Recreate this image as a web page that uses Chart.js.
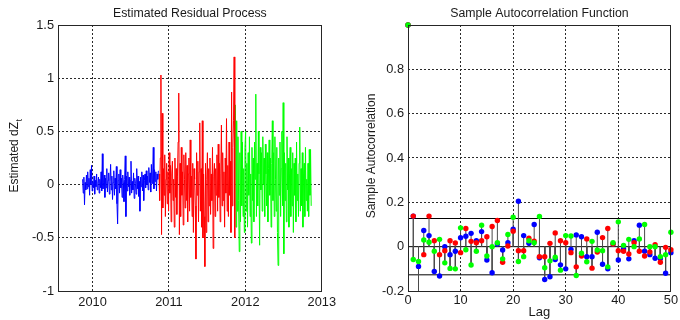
<!DOCTYPE html>
<html><head><meta charset="utf-8">
<script src="https://cdn.jsdelivr.net/npm/chart.js@4.4.1/dist/chart.umd.min.js"></script>
<style>
html,body{margin:0;padding:0;background:#fff;width:680px;height:320px;overflow:hidden}
canvas{position:absolute;top:0}
#c1{left:0}#c2{left:340px}
</style></head><body>
<canvas id="c1" width="340" height="320"></canvas>
<canvas id="c2" width="340" height="320"></canvas>
<script>
// ---------- data ----------
const segmentStarts = [2009.87, 2010.87, 2011.87];   // decimal year where each colored segment starts
const blueResiduals = [0.05,-0.08,0.07,-0.19,0.02,-0.05,0.09,-0.04,0.12,-0.02,0.06,-0.10,0.14,0.00,0.18,-0.06,0.03,-0.03,0.08,-0.09,0.04,-0.02,0.10,-0.05,0.01,0.07,-0.08,0.05,-0.03,0.12,-0.06,0.29,-0.04,0.02,0.09,-0.12,0.06,-0.03,0.15,-0.07,0.04,0.11,-0.09,0.03,0.19,-0.05,0.08,-0.14,0.02,0.13,-0.10,0.06,-0.04,0.17,-0.18,-0.37,0.04,0.10,-0.08,0.14,-0.03,0.06,-0.12,0.09,0.02,-0.16,0.05,0.27,-0.30,0.08,-0.06,0.12,-0.02,0.07,-0.10,0.04,0.22,-0.08,0.03,-0.05,0.11,-0.13,0.06,0.01,-0.09,0.15,-0.04,0.08,-0.11,0.03,-0.25,0.07,-0.02,0.12,-0.06,0.09,-0.15,0.04,0.10,-0.03,0.13,0.00,0.08,-0.05,0.16,0.02,0.11,-0.07,0.19,0.01,0.09,0.35,-0.04,0.14,0.03,0.12,-0.06,0.10,0.05,0.13];
const redResiduals = [0.10,-0.15,0.25,1.03,-0.47,0.67,-0.22,0.15,-0.10,0.28,-0.30,0.05,0.20,-0.18,0.12,-0.25,0.30,-0.08,0.18,-0.35,0.10,0.22,-0.15,0.05,-0.40,0.25,-0.12,0.15,-0.28,0.08,0.40,0.86,-0.47,0.20,-0.30,0.35,-0.10,0.12,-0.38,0.28,0.05,-0.22,0.30,-0.15,0.18,-0.35,0.10,0.25,-0.25,0.42,-0.12,0.08,-0.30,0.20,-0.45,0.15,0.05,-0.20,-0.70,0.30,-0.10,0.22,-0.35,0.12,0.58,-0.25,0.15,-0.40,0.60,-0.50,0.10,-0.30,-0.77,0.20,-0.45,0.05,0.30,-0.35,0.15,-0.20,0.25,-0.28,0.10,-0.15,0.35,-0.60,0.08,0.20,-0.30,0.15,-0.10,0.28,-0.25,0.38,-0.12,0.20,-0.35,0.10,0.56,-0.20,0.30,-0.15,0.12,-0.40,0.25,-0.08,0.62,-0.25,0.18,-0.30,0.40,-0.10,0.22,-0.45,0.87,-0.20,0.35,0.60,1.20,-0.50];
const greenResiduals = [0.75,-0.40,0.60,-0.25,0.45,-0.15,-0.63,0.30,-0.35,0.50,-0.20,0.40,-0.30,0.15,-0.45,0.35,0.50,-0.25,0.20,-0.40,0.30,-0.10,0.45,-0.30,0.10,-0.55,0.35,-0.15,0.25,-0.35,0.40,0.05,0.85,-0.30,0.20,-0.20,0.50,0.10,-0.57,0.35,-0.05,0.30,-0.25,0.45,0.00,0.25,-0.30,0.38,0.10,-0.20,0.30,-0.35,0.15,0.42,-0.10,0.25,-0.40,0.20,0.60,-0.15,0.30,-0.30,0.45,0.05,-0.25,0.35,-0.45,-0.76,0.25,-0.10,0.40,-0.30,0.15,0.50,-0.20,0.77,-0.65,0.30,-0.15,0.20,-0.35,0.45,-0.05,0.25,-0.40,0.10,0.35,-0.30,0.15,-0.20,0.30,-0.45,0.20,-0.10,0.25,-0.35,0.40,-0.15,0.10,-0.30,0.20,0.54,-0.25,0.15,-0.20,0.30,-0.40,0.10,0.20,-0.30,0.35,-0.15,0.05,-0.25,0.20,-0.30,0.33,-0.10,0.33,-0.20];

const lags = [0,1,2,3,4,5,6,7,8,9,10,11,12,13,14,15,16,17,18,19,20,21,22,23,24,25,26,27,28,29,30,31,32,33,34,35,36,37,38,39,40,41,42,43,44,45,46,47,48,49,50];
const acfBlue = [1,0.138,-0.089,0.073,0.05,-0.112,-0.132,0.0,-0.036,-0.021,0.04,0.047,0.06,0.027,0.068,-0.06,-0.118,0.012,-0.015,0.018,0.079,0.205,0.05,0.015,0.1,-0.05,-0.148,-0.136,-0.058,-0.082,-0.1,-0.012,0.053,0.045,-0.045,-0.045,0.065,-0.079,-0.1,0.012,-0.06,-0.01,-0.055,0.027,0.097,-0.021,-0.036,-0.052,-0.053,-0.12,-0.027];
const acfRed = [1,0.138,-0.25,-0.036,0.138,0.027,-0.036,-0.018,0.027,0.017,-0.027,0.082,0.024,0.018,0.027,0.045,0.091,0.118,-0.07,0.003,0.07,-0.018,-0.018,0.038,0.025,-0.045,-0.045,0.015,0.062,0.027,0.018,-0.027,-0.091,-0.042,0.035,-0.097,-0.024,0.041,0.082,0.012,-0.018,-0.021,-0.033,0.018,-0.021,-0.042,-0.024,0.009,-0.07,-0.003,-0.014];
const acfGreen = [1,-0.058,-0.067,0.03,0.02,-0.021,0.033,-0.073,-0.098,-0.1,0.085,-0.014,-0.083,-0.021,0.097,-0.042,0.0,0.018,-0.055,0.055,0.133,-0.067,-0.045,0.027,0.018,0.136,-0.095,-0.064,-0.048,-0.106,0.05,0.048,-0.13,-0.03,-0.068,0.024,-0.015,-0.018,-0.091,0.018,0.112,0.006,0.033,0.0,0.035,0.1,0.0,0.0,-0.045,-0.036,0.065];
const confBound = 0.127;

const yearTicks = [2010, 2011, 2012, 2013];
const residualTicks = [-1, -0.5, 0, 0.5, 1, 1.5];
const lagTicks = [0, 10, 20, 30, 40, 50];
const acfTicks = [-0.2, 0, 0.2, 0.4, 0.6, 0.8];

// ---------- helpers ----------
const FONT = '"Liberation Sans", Arial, Helvetica, sans-serif';
Chart.defaults.font.family = FONT;
Chart.defaults.font.size = 12.8;
Chart.defaults.color = '#1a1a1a';
Chart.defaults.animation = false;

function segment(vals, start) {
  return vals.map((v, i) => ({x: start + i / vals.length, y: v}));
}
function stems(vals) {
  const out = [];
  lags.forEach((k, i) => { out.push({x:k, y:0}); out.push({x:k, y:vals[i]}); out.push({x:k, y:null}); });
  return out;
}
function gridColor(minV, maxV, skip) {
  return (c) => {
    const v = c.tick && c.tick.value;
    if (v === undefined) return 'rgba(0,0,0,0)';
    if (Math.abs(v - minV) < 1e-6 || Math.abs(v - maxV) < 1e-6) return 'rgba(0,0,0,0)';
    if (skip && skip.some(s => Math.abs(v - s) < 1e-6)) return 'rgba(0,0,0,0)';
    return '#2a2a2a';
  };
}
function decor(title, ylab, ysub, xlab, ylabX) {
  return {
    id: 'decor',
    afterDraw(chart) {
      const {ctx, chartArea: a} = chart;
      ctx.save();
      ctx.strokeStyle = '#262626';
      ctx.lineWidth = 1;
      ctx.strokeRect(Math.round(a.left) + 0.5, Math.round(a.top) + 0.5,
                     Math.round(a.right - a.left) - 1, Math.round(a.bottom - a.top));
      ctx.fillStyle = '#1a1a1a';
      ctx.textAlign = 'center';
      ctx.textBaseline = 'middle';
      ctx.font = '12.3px ' + FONT;
      ctx.fillText(title, (a.left + a.right) / 2, 14);
      if (xlab) { ctx.font = '13px ' + FONT; ctx.fillText(xlab, (a.left + a.right) / 2, 312); }
      // y label rotated
      ctx.translate(ylabX, (a.top + a.bottom) / 2 - 2);
      ctx.rotate(-Math.PI / 2);
      ctx.font = '12px ' + FONT;
      const w1 = ctx.measureText(ylab).width;
      let w2 = 0;
      if (ysub) { ctx.font = '9px ' + FONT; w2 = ctx.measureText(ysub).width; }
      const x0 = -(w1 + w2) / 2;
      ctx.textAlign = 'left';
      ctx.font = '12px ' + FONT;
      ctx.fillText(ylab, x0, 0);
      if (ysub) { ctx.font = '9px ' + FONT; ctx.fillText(ysub, x0 + w1 + 0.5, 5); }
      ctx.restore();
    }
  };
}

// ---------- left chart ----------
const lineDs = (vals, start, color) => ({
  type: 'line', data: segment(vals, start), borderColor: color, borderWidth: 1,
  pointRadius: 0, tension: 0, fill: false
});
new Chart(document.getElementById('c1'), {
  type: 'line',
  data: { datasets: [
    lineDs(blueResiduals, segmentStarts[0], '#0000ff'),
    lineDs(redResiduals, segmentStarts[1], '#ff0000'),
    lineDs(greenResiduals, segmentStarts[2], '#00ff00')
  ]},
  options: {
    responsive: false,
    layout: { padding: {top: 25, right: 17, left: 0, bottom: 0} },
    plugins: { legend: {display: false}, tooltip: {enabled: false}, title: {display: false} },
    scales: {
      x: {
        type: 'linear', min: 2009.548, max: 2013,
        afterFit: s => { s.height = 29; },
        afterBuildTicks: s => { s.ticks = [2009.548].concat(yearTicks).map(v => ({value: v})); },
        ticks: { padding: 4, maxRotation: 0, autoSkip: false, callback: v => yearTicks.includes(v) ? String(v) : '' },
        grid: { drawTicks: false, color: gridColor(2009.548, 2013), lineWidth: 1 },
        border: { display: false, dash: [2, 2] }
      },
      y: {
        type: 'linear', min: -1, max: 1.5,
        afterFit: s => { s.width = 58; },
        afterBuildTicks: s => { s.ticks = residualTicks.map(v => ({value: v})); },
        ticks: { padding: 4, callback: v => String(v) },
        grid: { drawTicks: false, color: gridColor(-1, 1.5), lineWidth: 1 },
        border: { display: false, dash: [2, 2] }
      }
    }
  },
  plugins: [decor('Estimated Residual Process', 'Estimated dZ', 't', null, 15)]
});

// ---------- right chart ----------
const bound = v => ({ type: 'line', data: [{x: 0, y: v}, {x: 50, y: v}], borderColor: '#000', borderWidth: 1, pointRadius: 0, order: 20 });
const stemDs = (vals, ord) => ({ type: 'line', data: stems(vals), borderColor: '#4a4a4a', borderWidth: 1, pointRadius: 0, spanGaps: false, order: ord });
const markDs = (vals, color, ord) => ({
  type: 'scatter', data: lags.map((k, i) => ({x: k, y: vals[i]})),
  backgroundColor: color, borderColor: color, borderWidth: 0, pointRadius: 2.7, order: ord, clip: 4
});
new Chart(document.getElementById('c2'), {
  type: 'scatter',
  data: { datasets: [
    bound(confBound), bound(-confBound), bound(0),
    stemDs(acfBlue, 12), stemDs(acfRed, 11), stemDs(acfGreen, 10),
    markDs(acfBlue, '#0000ff', 3), markDs(acfRed, '#ff0000', 2), markDs(acfGreen, '#00ff00', 1)
  ]},
  options: {
    responsive: false,
    layout: { padding: {top: 25, right: 6, left: 0, bottom: 0} },
    plugins: { legend: {display: false}, tooltip: {enabled: false}, title: {display: false} },
    scales: {
      x: {
        type: 'linear', min: 0, max: 50,
        afterFit: s => { s.height = 29; },
        afterBuildTicks: s => { s.ticks = lagTicks.map(v => ({value: v})); },
        ticks: { padding: 2, maxRotation: 0, callback: v => String(v) },
        grid: { drawTicks: false, color: gridColor(0, 50), lineWidth: 1 },
        border: { display: false, dash: [2, 2] }
      },
      y: {
        type: 'linear', min: -0.2, max: 1,
        afterFit: s => { s.width = 68; },
        afterBuildTicks: s => { s.ticks = acfTicks.concat([1]).map(v => ({value: v})); },
        ticks: { padding: 4, callback: v => (Math.abs(v - 1) < 1e-6 ? '' : String(Number(v.toFixed(1)))) },
        grid: { drawTicks: false, color: gridColor(-0.2, 1, [0]), lineWidth: 1 },
        border: { display: false, dash: [2, 2] }
      }
    }
  },
  plugins: [decor('Sample Autocorrelation Function', 'Sample Autocorrelation', null, 'Lag', 32)]
});
</script>
</body></html>
